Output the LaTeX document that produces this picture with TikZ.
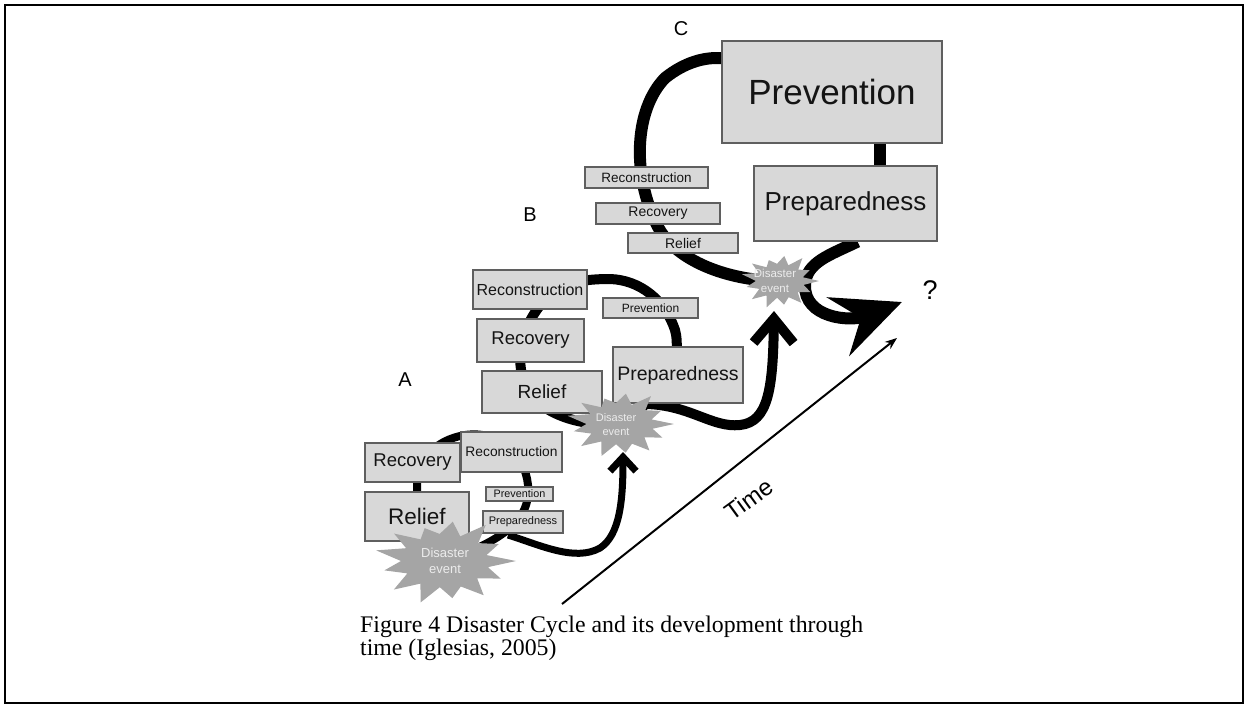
\documentclass[tikz,border=0pt]{standalone}
\usepackage{fontspec}
\setmainfont{Liberation Serif}
\setsansfont{Liberation Sans}
\usetikzlibrary{arrows.meta,backgrounds}

\definecolor{boxfill}{RGB}{216,216,216}
\definecolor{boxline}{RGB}{95,95,95}
\definecolor{burstfill}{RGB}{165,165,165}
\definecolor{bursttext}{RGB}{236,236,236}

\tikzset{
  % one phase of the cycle: width, height, font size (all in px = pt)
  phase/.style n args={3}{draw=boxline, line width=1.2pt, fill=boxfill,
    inner sep=0pt, minimum width=#1pt, minimum height=#2pt, text=black!92,
    font=\sffamily\fontsize{#3pt}{#3pt}\selectfont},
  % label inside a disaster burst: font size, line distance
  disastertext/.style n args={2}{text=bursttext, align=center, inner sep=0pt,
    font=\sffamily\fontsize{#1pt}{#2pt}\selectfont},
  cyclelabel/.style={inner sep=0pt, font=\sffamily\fontsize{#1pt}{#1pt}\selectfont},
  captionline/.style={anchor=base west, inner sep=0pt,
    font=\fontsize{23.8pt}{23.8pt}\selectfont},
  cycA/.style={line width=8pt},
  cycB/.style={line width=10pt},
  cycC/.style={line width=12pt},
  arrowA/.style={line width=7pt, -{Straight Barb[length=14pt,width=26pt]}},
  arrowB/.style={line width=10pt, -{Straight Barb[length=24pt,width=40pt]}},
  arrowC/.style={line width=12pt, -{Stealth[length=68pt,width=62pt,inset=24pt]}},
  timeaxis/.style={line width=2pt, -{Stealth[length=12pt,width=9pt]}},
  burst/.pic={\fill[burstfill] (0:1) -- (13:0.6) -- (27:0.85) -- (41:0.62)
    -- (55:1) -- (69:0.6) -- (83:0.9) -- (97:0.62) -- (111:0.8) -- (125:0.6)
    -- (139:0.95) -- (152:0.62) -- (166:1) -- (180:0.62) -- (194:0.88)
    -- (208:0.6) -- (222:0.97) -- (236:0.62) -- (250:1) -- (263:0.6)
    -- (277:0.85) -- (291:0.62) -- (305:0.95) -- (319:0.6) -- (333:0.88)
    -- (347:0.62) -- cycle;}
}

\begin{document}
\begin{tikzpicture}[x=1pt,y=-1pt]
\useasboundingbox (0,0) rectangle (1244,704);

% ---- cycle C ----
\node[phase={220}{102}{35}] (prevC) at (832,92) {Prevention};
\node[phase={183}{75}{26}] (prepC) at (845.5,203.5) {Preparedness};
\node[phase={123}{21}{13.5}] (recoC) at (646.5,177.5) {Reconstruction};
\node[phase={124}{21}{14}] (recvC) at (658,213.5) {Recovery};
\node[phase={110}{20}{14}] (relC) at (683,243) {Relief};

% ---- cycle B ----
\node[phase={114}{39}{16}] (recoB) at (530,289.5) {Reconstruction};
\node[phase={95}{20}{12}] (prevB) at (650.5,308) {Prevention};
\node[phase={107}{43}{18.5}] (recvB) at (530.5,340.5) {Recovery};
\node[phase={120}{42}{19}] (relB) at (542,392) {Relief};
\node[phase={130}{56}{19.5}] (prepB) at (678,375) {Preparedness};

% ---- cycle A ----
\node[phase={95}{39}{18.5}] (recvA) at (412.5,462.5) {Recovery};
\node[phase={101}{40}{13.8}] (recoA) at (511.5,452) {Reconstruction};
\node[phase={104}{49}{22.5}] (relA) at (417,516.5) {Relief};
\node[phase={67}{14}{10.8}] (prevA) at (519.5,494) {Prevention};
\node[phase={80}{22}{11}] (prepA) at (523,522) {Preparedness};

% ---- disaster bursts ----
\path (445,561) pic[x=71pt,y=44pt] {burst};
\path (620,424) pic[x=54pt,y=34pt] {burst};
\path (780,281) pic[x=39pt,y=28pt] {burst};
\node[disastertext={13}{16}] (dA) at (445,561) {Disaster\\event};
\node[disastertext={11}{14}] (dB) at (616,425) {Disaster\\event};
\node[disastertext={11.5}{15}] (dC) at (775,281) {Disaster\\event};

% free ends of the connectors
\coordinate (forkA) at (508,535);
\coordinate (tipA) at (623,452);
\coordinate (forkB) at (646,404);
\coordinate (tipB) at (774,311);
\coordinate (tipC) at (902,302);

% ---- thick cycle lines, behind the boxes ----
\begin{scope}[on background layer]
  % cycle A
  \draw[cycA] (dA.center) .. controls (425,540) and (417,520) .. (417,487)
    .. controls (417,460) and (435,440) .. (465,435)
    .. controls (500,430) and (525,455) .. (528,485)
    .. controls (530,510) and (520,535) .. (dA.center);
  \draw[arrowA] (forkA) .. controls (540,545) and (575,562) .. (600,548)
    .. controls (620,535) and (623,500) .. (tipA);
  % cycle B
  \draw[cycB] (dB.center) .. controls (570,425) and (530,410) .. (522,375)
    .. controls (515,345) and (530,315) .. (545,300)
    .. controls (560,282) and (585,279) .. (610,279)
    .. controls (640,280) and (665,300) .. (675,330)
    .. controls (682,355) and (670,395) .. (dB.center);
  \draw[arrowB] (forkB) .. controls (690,405) and (712,428) .. (740,425)
    .. controls (768,422) and (773,390) .. (tipB);
  % cycle C
  \draw[cycC] (dC.center) .. controls (730,280) and (675,262) .. (657,225)
    .. controls (632,175) and (634,110) .. (665,78)
    .. controls (685,62) and (705,57) .. (prevC.163);
  \draw[cycC] ([xshift=48pt]prevC.south) -- ([xshift=34.5pt]prepC.north);
  \draw[arrowC] ([xshift=12pt]prepC.south) .. controls (830,255) and (806,262) .. (805,285)
    .. controls (804,318) and (850,322) .. (tipC);
\end{scope}

% ---- time axis ----
\coordinate (t0) at (562,604);
\coordinate (t1) at (897,338);
\draw[timeaxis] (t0) -- (t1);
\node[cyclelabel=24, rotate=36] (timelbl) at (749,499) {Time};

% ---- cycle letters ----
\node[cyclelabel=20] (labC) at (681,29) {C};
\node[cyclelabel=20] (labB) at (530,215) {B};
\node[cyclelabel=20] (labA) at (405,380) {A};
\node[cyclelabel=27] (labQ) at (930,290) {?};

% ---- caption ----
\node[captionline] (cap1) at (360,632) {Figure 4 Disaster Cycle and its development through};
\node[captionline] (cap2) at (360,655) {time (Iglesias, 2005)};

% ---- frame ----
\draw[line width=2pt] (5,4.5) rectangle (1242.5,702.5);
\end{tikzpicture}
\end{document}
